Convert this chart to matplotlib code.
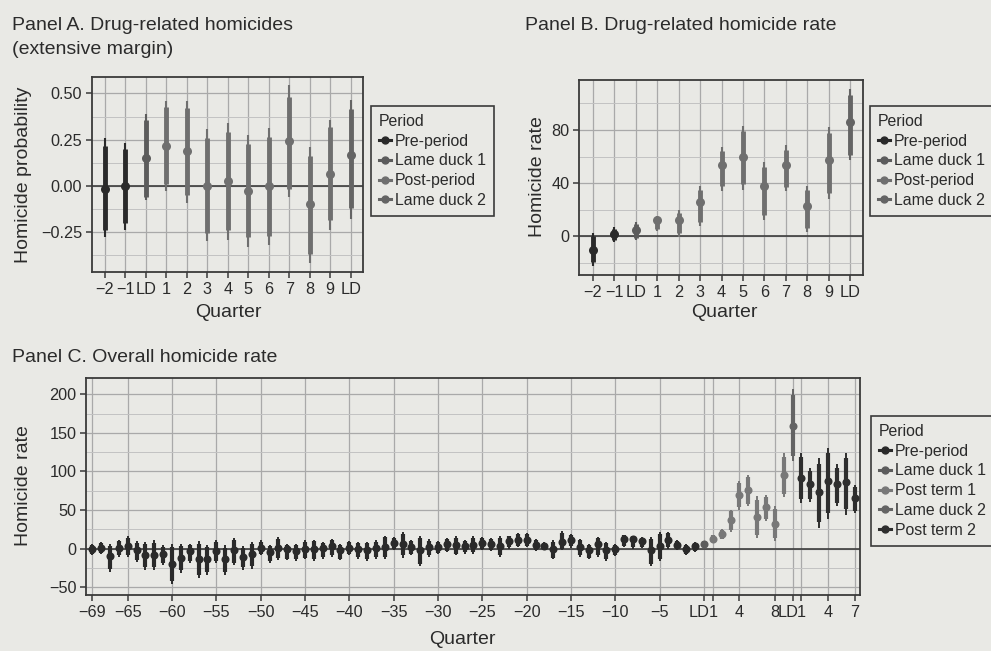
import numpy as np
import matplotlib
matplotlib.use("Agg")
import matplotlib.pyplot as plt
from matplotlib.lines import Line2D
from matplotlib.ticker import MultipleLocator, FixedLocator
from matplotlib.transforms import ScaledTranslation

plt.rcParams['font.family'] = ['Liberation Sans', 'DejaVu Sans']

# ---- Panel A: drug-related homicides (extensive margin) ----
quarters_ab = ['\u22122', '\u22121', 'LD', '1', '2', '3', '4', '5', '6', '7', '8', '9', 'LD']
period_ab = ['pre', 'pre', 'ld1', 'post', 'post', 'post', 'post', 'post',
             'post', 'post', 'post', 'post', 'ld2']
est_a = [-0.015, 0.0, 0.149, 0.217, 0.188, 0.0, 0.025, -0.029, 0.0, 0.243, -0.10, 0.063, 0.165]
lo95_a = [-0.28, -0.24, -0.078, -0.03, -0.096, -0.30, -0.295, -0.33, -0.32, -0.063, -0.42, -0.24, -0.178]
hi95_a = [0.257, 0.234, 0.39, 0.46, 0.46, 0.306, 0.34, 0.275, 0.315, 0.547, 0.21, 0.357, 0.466]
lo90_a = [-0.237, -0.20, -0.06, 0.01, -0.05, -0.255, -0.24, -0.28, -0.27, -0.015, -0.37, -0.187, -0.123]
hi90_a = [0.215, 0.20, 0.357, 0.425, 0.42, 0.26, 0.29, 0.226, 0.266, 0.48, 0.16, 0.317, 0.415]

# ---- Panel B: drug-related homicide rate ----
est_b = [-10, 1.75, 4.5, 12, 12, 26, 54, 60, 38, 54, 22.5, 57.5, 86]
lo95_b = [-22, -4.5, -3, 3.75, -0.5, 8, 34, 34.5, 12, 34, 3, 28, 57.5]
hi95_b = [2.5, 7, 11, 15, 20, 38, 67, 83, 56, 69, 38, 82, 111]
lo90_b = [-19, -2.5, -1, 5.5, 2.5, 11, 37.5, 39, 16, 37, 6, 32.5, 61]
hi90_b = [0.5, 5.5, 9.5, 14, 17.5, 35, 64, 79, 52.5, 65, 35, 77.5, 106]

# ---- Panel C: overall homicide rate, quarters -69 .. 17 ----
est_c = [0, 1.3, -10, 1, 3, -2, -8.6, -7.7, -6.4, -19.3,
         -11.6, -3.4, -12.9, -12.9, -3.4, -13.7, -2.1, -10.7, -6.4, 1,
         -4.3, 1, -1, -3, 0, 0, 1.3, 3, -2, 1.3,
         0, -2, 1.3, 2, 7.3, 5.6, 2, -1.3, 2, 2,
         5.6, 5, 3, 5, 7.3, 6.4, 3, 9.4, 11.6, 11.6,
         5, 3, 0, 8.6, 11.6, 2, -2, 6.4, -2, 0,
         13, 12, 10, -2, 3, 11.6, 5, 0, 3,
         6, 12.5, 18.5, 36.5, 69, 76.4, 41, 54, 32, 95.7,
         159, 91.4, 83.7, 73.4, 87, 83.7, 86, 65.7]
lo95_c = [-8.6, -7, -30, -10.7, -10.7, -17, -27, -27, -21, -46,
          -31, -18, -38.6, -34, -18.5, -34, -21.5, -27, -25.7, -8.6,
          -18.5, -15, -15, -16, -14, -16, -13, -10.7, -15, -8.6,
          -13, -16, -13, -13, -2, -11.6, -8.6, -23, -10.7, -6.4,
          -4.3, -8.6, -6.4, -6.4, -2, -3, -10.7, 0, 2, 2,
          -3.4, -2, -14, -2, 1.3, -10.7, -14, -10.7, -16, -10,
          2, 0, 1.3, -23, -16, 0, -2, -8.6, -4.3,
          2, 8.6, 12, 22, 50.6, 55, 13.3, 35.6, 10, 66.5,
          113, 59, 61, 27, 39, 55, 44, 46]
hi95_c = [6.4, 8, 6.4, 11.6, 16, 9.4, 8.6, 10.7, 4.3, 6.4,
          6.4, 5.6, 9.9, 4.3, 11.6, 4.3, 13.7, 3, 8.6, 10.7,
          4.3, 15, 6.4, 5.6, 10.7, 11.6, 8.6, 13, 6.4, 9.9,
          8.6, 8.6, 10.7, 17, 15, 21.5, 10.7, 16, 12, 9.4,
          13.7, 16, 11.6, 16, 15, 14, 16, 17, 20, 20.6,
          13, 8.6, 10.7, 22.7, 19, 13, 6.4, 15, 8.6, 6.4,
          18, 17, 15, 15, 21.5, 21.5, 11.6, 6.4, 8.6,
          10, 18, 25, 50.6, 88, 95.7, 68, 70, 55, 123.6,
          207, 123.6, 104, 117, 131, 109, 124, 83]
quarter_c = np.arange(-69, 18)
period_c = (['pre'] * 69 + ['ld1'] + ['post1'] * 9 + ['ld2'] + ['post2'] * 7)
ticks_c = [-69, -65, -60, -55, -50, -45, -40, -35, -30, -25, -20, -15, -10, -5,
           0, 1, 4, 8, 10, 11, 14, 17]
ticklabels_c = ['\u221269', '\u221265', '\u221260', '\u221255', '\u221250', '\u221245',
                '\u221240', '\u221235', '\u221230', '\u221225', '\u221220', '\u221215',
                '\u221210', '\u22125', 'LD', '1', '4', '8', 'LD', '1', '4', '7']

colors = {'pre': '#2a2a2a', 'ld1': '#5c5c5c', 'post': '#6f6f6f', 'ld2': '#646464',
          'post1': '#787878', 'post2': '#2e2e2e'}
names_ab = [('pre', 'Pre-period'), ('ld1', 'Lame duck 1'), ('post', 'Post-period'),
            ('ld2', 'Lame duck 2')]
names_c = [('pre', 'Pre-period'), ('ld1', 'Lame duck 1'), ('post1', 'Post term 1'),
           ('ld2', 'Lame duck 2'), ('post2', 'Post term 2')]

BG = '#e9e9e5'
INK = '#2b2b2b'
W, H = 991, 651
Z90 = 1.645 / 1.96   # 95% -> 90% interval for panel C

fig = plt.figure(figsize=(W / 100, H / 100), dpi=100, facecolor=BG)


def px_axes(left, top, right, bottom):
    ax = fig.add_axes([left / W, 1 - bottom / H, (right - left) / W, (bottom - top) / H])
    ax.set_facecolor(BG)
    for s in ax.spines.values():
        s.set_color('#3a3a3a')
        s.set_linewidth(1.3)
    ax.tick_params(which='major', length=4, width=1.1, color='#3a3a3a',
                   labelsize=11.7, labelcolor=INK, pad=3)
    ax.tick_params(which='minor', length=0)
    ax.set_axisbelow(True)
    ax.grid(which='major', color='#a9a9a9', lw=0.9)
    ax.grid(which='minor', axis='y', color='#c2c2c2', lw=0.7)
    ax.axhline(0, color='#3d3d3d', lw=1.2, zorder=1.5)
    return ax


def pointranges(ax, x, est, lo, hi, lo_in, hi_in, periods, ms, lw_in, lw_out):
    x = np.asarray(x)
    periods = np.asarray(periods)
    for key in dict.fromkeys(periods):
        m = periods == key
        c = colors[key]
        ax.vlines(x[m], np.asarray(lo)[m], np.asarray(hi)[m], color=c, lw=lw_out, zorder=3)
        ax.vlines(x[m], np.asarray(lo_in)[m], np.asarray(hi_in)[m], color=c, lw=lw_in, zorder=3)
        ax.plot(x[m], np.asarray(est)[m], 'o', color=c, ms=ms, mew=0, zorder=4)


def legend(ax, names, x, y):
    handles = [Line2D([], [], color=colors[k], marker='o', ms=5, lw=2.2) for k, _ in names]
    lg = ax.legend(handles, [n for _, n in names], title='Period', loc='upper left',
                   bbox_to_anchor=(x / W, 1 - y / H), bbox_transform=fig.transFigure,
                   fontsize=11.4, title_fontsize=11.4, alignment='left',
                   handlelength=0.75, handletextpad=0.25, labelspacing=0.3,
                   borderpad=0.5, fancybox=False, framealpha=1, facecolor=BG,
                   edgecolor='#3a3a3a', borderaxespad=0)
    lg.get_frame().set_linewidth(1.2)
    for t in lg.get_texts():
        t.set_color(INK)
    lg.get_title().set_color(INK)


xab = np.arange(len(quarters_ab))

# Panel A
axA = px_axes(92, 77, 363, 272)
pointranges(axA, xab, est_a, lo95_a, hi95_a, lo90_a, hi90_a, period_ab, 6.5, 3.5, 1.5)
axA.set_xlim(-0.62, 12.6)
axA.set_ylim(-0.467, 0.589)
axA.set_xticks(xab, quarters_ab)
axA.yaxis.set_major_locator(FixedLocator([-0.25, 0.0, 0.25, 0.5]))
axA.yaxis.set_minor_locator(FixedLocator([-0.375, -0.125, 0.125, 0.375]))
axA.set_yticklabels(['\u22120.25', '0.00', '0.25', '0.50'])
legend(axA, names_ab, 371, 106)

# Panel B
axB = px_axes(579, 80, 863, 275)
pointranges(axB, xab, est_b, lo95_b, hi95_b, lo90_b, hi90_b, period_ab, 6.5, 3.5, 1.5)
axB.set_xlim(-0.65, 12.6)
axB.set_ylim(-29, 117.5)
axB.set_xticks(xab, quarters_ab)
axB.yaxis.set_major_locator(MultipleLocator(40))
axB.yaxis.set_minor_locator(FixedLocator([-20, 20, 60, 100]))
legend(axB, names_ab, 870, 106)

# Panel C
axC = px_axes(86, 378, 860, 595)
est_c = np.asarray(est_c, float)
lo95_c = np.asarray(lo95_c, float)
hi95_c = np.asarray(hi95_c, float)
lo90_c = est_c - Z90 * (est_c - lo95_c)
hi90_c = est_c + Z90 * (hi95_c - est_c)
pointranges(axC, quarter_c, est_c, lo95_c, hi95_c, lo90_c, hi90_c, period_c, 5.8, 3.0, 1.4)
axC.set_xlim(-69.7, 17.6)
axC.set_ylim(-60, 221)
axC.set_xticks(ticks_c, ticklabels_c)
axC.yaxis.set_major_locator(FixedLocator([-50, 0, 50, 100, 150, 200]))
axC.yaxis.set_minor_locator(FixedLocator([-25, 25, 75, 125, 175]))
axC.set_yticklabels(['\u221250', '0', '50', '100', '150', '200'])
# the "LD" labels sit just left of their tick, as in the print
for lab in axC.get_xticklabels():
    if lab.get_text() == 'LD':
        lab.set_transform(lab.get_transform() + ScaledTranslation(-4.5 / 100, 0, fig.dpi_scale_trans))
legend(axC, names_c, 871, 416)


def ftext(x, y, s, **kw):
    fig.text(x / W, 1 - y / H, s, color=INK, **kw)


ftext(12, 25, 'Panel A. Drug-related homicides', fontsize=14, va='center', ha='left')
ftext(12, 50, '(extensive margin)', fontsize=14, va='center', ha='left')
ftext(525, 25, 'Panel B. Drug-related homicide rate', fontsize=14, va='center', ha='left')
ftext(12, 357, 'Panel C. Overall homicide rate', fontsize=14, va='center', ha='left')

ftext(24, 175, 'Homicide probability', fontsize=14, rotation=90, va='center', ha='center')
ftext(537, 177, 'Homicide rate', fontsize=14, rotation=90, va='center', ha='center')
ftext(24, 486, 'Homicide rate', fontsize=14, rotation=90, va='center', ha='center')

ftext(228, 313, 'Quarter', fontsize=14, va='center', ha='center')
ftext(724, 313, 'Quarter', fontsize=14, va='center', ha='center')
ftext(462, 640, 'Quarter', fontsize=14, va='center', ha='center')

fig.savefig('out.png', dpi=100, facecolor=BG)
